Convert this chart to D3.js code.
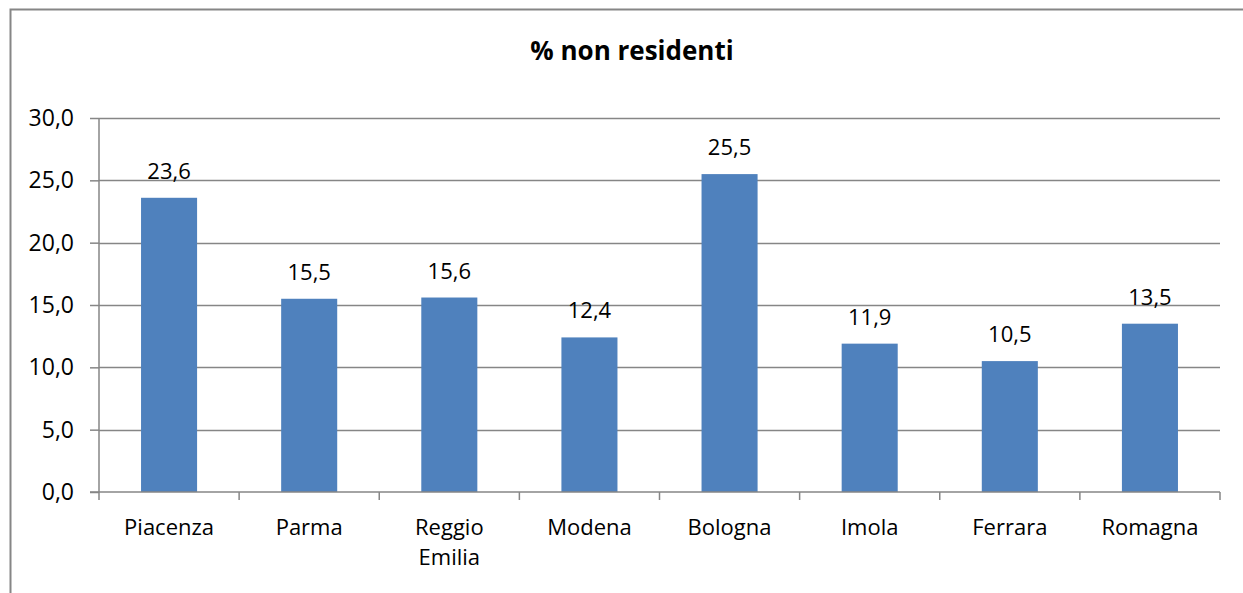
<!DOCTYPE html>
<html>
<head>
<meta charset="utf-8">
<script src="https://cdn.jsdelivr.net/npm/d3@7/dist/d3.min.js"></script>
<style>
  body { margin: 0; background: #fff; }
  svg text { font-family: "Open Sans", "Noto Sans", sans-serif; fill: #000; }
</style>
</head>
<body>
<script>
var categories = ["Piacenza", "Parma", "Reggio Emilia", "Modena", "Bologna", "Imola", "Ferrara", "Romagna"]
var values = [23.6, 15.5, 15.6, 12.4, 25.5, 11.9, 10.5, 13.5]
var yTicks = [0, 5, 10, 15, 20, 25, 30]
var title = "% non residenti"

var W = 1243, H = 593
var plotL = 99, plotR = 1220, plotT = 118, plotB = 492
var fs = '22px'

var svg = d3.select('body').append('svg')
  .attr('width', W)
  .attr('height', H)

// outer chart border
svg.append('rect')
  .attr('x', 10.5)
  .attr('y', 9.5)
  .attr('width', W)
  .attr('height', H)
  .attr('fill', 'none')
  .attr('stroke', '#868686')
  .attr('stroke-width', 2)

svg.append('text')
  .attr('x', 632)
  .attr('y', 60)
  .attr('text-anchor', 'middle')
  .style('font-size', '26px')
  .style('font-weight', 'bold')
  .text(title)

var x = d3.scaleBand().domain(categories).range([plotL, plotR]).paddingInner(0.6).paddingOuter(0.3)
var xOuter = d3.scaleBand().domain(categories).range([plotL, plotR])
var y = d3.scaleLinear().domain([0, 30]).range([plotB, plotT])

var fmt = function(v) { return d3.format('.1f')(v).replace('.', ',') }

// gridlines
svg.append('g')
  .selectAll('line')
  .data(yTicks.filter(function(t) { return t > 0 }))
  .enter().append('line')
  .attr('x1', plotL).attr('x2', plotR)
  .attr('y1', function(d) { return Math.round(y(d)) + 0.5 })
  .attr('y2', function(d) { return Math.round(y(d)) + 0.5 })
  .attr('stroke', '#868686')
  .attr('stroke-width', 1.5)

// bars
svg.append('g')
  .selectAll('rect')
  .data(values)
  .enter().append('rect')
  .attr('x', function(d, i) { return x(categories[i]) })
  .attr('width', x.bandwidth())
  .attr('y', function(d) { return y(d) })
  .attr('height', function(d) { return plotB - y(d) })
  .attr('fill', '#4F81BD')

// value labels
svg.append('g')
  .selectAll('text')
  .data(values)
  .enter().append('text')
  .attr('x', function(d, i) { return x(categories[i]) + x.bandwidth() / 2 })
  .attr('y', function(d) { return y(d) - 19 })
  .attr('text-anchor', 'middle')
  .style('font-size', fs)
  .text(fmt)

// y axis
var yAxis = svg.append('g')
  .attr('transform', 'translate(' + plotL + ',0)')
  .call(d3.axisLeft(y).tickValues(yTicks).tickSize(9).tickPadding(16).tickFormat(fmt))
yAxis.selectAll('path, line').attr('stroke', '#868686').attr('stroke-width', 1.5)
yAxis.selectAll('text').style('font-size', '23px').style('font-family', null).attr('fill', '#000')
yAxis.select('.domain').attr('d', 'M0,' + plotT + 'V' + plotB)

// x axis
var xAxis = svg.append('g')
  .attr('transform', 'translate(0,' + plotB + ')')
xAxis.append('line')
  .attr('x1', plotL - 9).attr('x2', plotR)
  .attr('y1', 0).attr('y2', 0)
  .attr('stroke', '#868686').attr('stroke-width', 1.5)
var edges = categories.map(function(c) { return xOuter(c) }).concat([plotR])
xAxis.selectAll('line.tick')
  .data(edges)
  .enter().append('line')
  .attr('class', 'tick')
  .attr('x1', function(d) { return d }).attr('x2', function(d) { return d })
  .attr('y1', 0).attr('y2', 8)
  .attr('stroke', '#868686').attr('stroke-width', 1.5)

var labels = xAxis.selectAll('text.cat')
  .data(categories)
  .enter().append('text')
  .attr('class', 'cat')
  .attr('x', function(d) { return xOuter(d) + xOuter.bandwidth() / 2 })
  .attr('y', 43)
  .attr('text-anchor', 'middle')
  .style('font-size', fs)
labels.each(function(d) {
  var words = d === 'Reggio Emilia' ? ['Reggio', 'Emilia'] : [d]
  var t = d3.select(this)
  words.forEach(function(w, i) {
    t.append('tspan')
      .attr('x', xOuter(d) + xOuter.bandwidth() / 2)
      .attr('dy', i === 0 ? 0 : 30)
      .text(w)
  })
})
</script>
</body>
</html>
